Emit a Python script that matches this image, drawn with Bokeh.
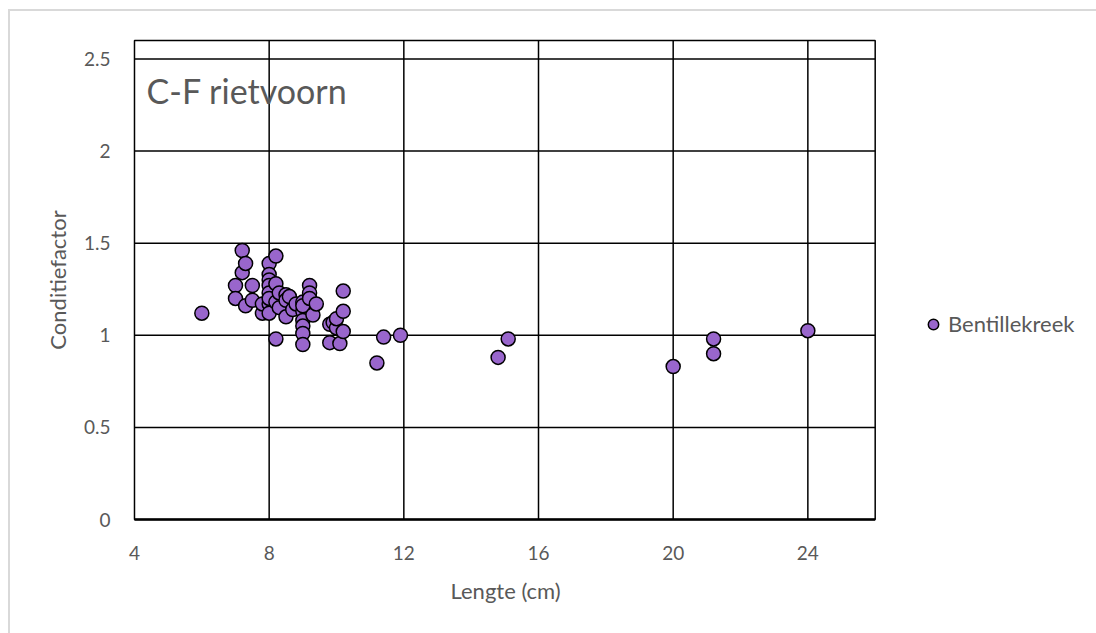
from bokeh.plotting import figure
from bokeh.models import (FixedTicker, Label, Legend, LegendItem, Title,
                          Range1d, CustomJSTickFormatter)
from bokeh.embed import file_html
from bokeh.resources import INLINE

# Bentillekreek: length (cm) and condition factor of rudd
lengte = [6.0,
          7.0, 7.0,
          7.2, 7.2,
          7.3, 7.3,
          7.5, 7.5,
          7.8, 7.8,
          8.0, 8.0, 8.0, 8.0, 8.0, 8.0, 8.0, 8.0,
          8.2, 8.2, 8.2, 8.2,
          8.3, 8.3,
          8.5, 8.5, 8.5,
          8.7, 8.6,
          8.8,
          9.0, 9.0, 9.0, 9.0, 9.0, 9.0, 9.0,
          9.2, 9.2, 9.2,
          9.3,
          9.4,
          9.8, 9.8,
          9.9,
          10.0, 10.0,
          10.1,
          10.2, 10.2, 10.2,
          11.2, 11.4, 11.9,
          14.8, 15.1,
          20.0,
          21.2, 21.2,
          24.0]
conditiefactor = [1.12,
                  1.27, 1.20,
                  1.46, 1.34,
                  1.39, 1.16,
                  1.27, 1.19,
                  1.12, 1.17,
                  1.39, 1.33, 1.30, 1.27, 1.23, 1.17, 1.12, 1.20,
                  1.43, 1.28, 1.18, 0.98,
                  1.23, 1.15,
                  1.22, 1.19, 1.10,
                  1.14, 1.21,
                  1.17,
                  1.18, 1.13, 1.08, 1.05, 1.01, 0.95, 1.16,
                  1.27, 1.23, 1.20,
                  1.11,
                  1.17,
                  1.06, 0.96,
                  1.07,
                  1.04, 1.09,
                  0.955,
                  1.24, 1.13, 1.02,
                  0.85, 0.99, 1.00,
                  0.88, 0.98,
                  0.83,
                  0.98, 0.90,
                  1.025]

x_ticks = [4, 8, 12, 16, 20, 24]
y_ticks = [0, 0.5, 1, 1.5, 2, 2.5]
X_MIN, X_MAX = 4, 26
Y_MIN, Y_MAX = 0, 2.6

FONT = "Lato"
GREY = "#595959"

# plot-area geometry in pixels; the canvas frame runs on to the right edge so
# the legend beside the plot area can live in the same panel
PX_X = 743 / (X_MAX - X_MIN)
PX_Y = 479 / (Y_MAX - Y_MIN)
PAD = 3
x_range = Range1d(X_MIN - PAD / PX_X, X_MIN + (1096 - 134 + PAD) / PX_X)
y_range = Range1d(Y_MIN - PAD / PX_Y, Y_MAX + PAD / PX_Y)

p = figure(width=1096, height=633, output_backend="svg", toolbar_location=None,
           x_range=x_range, y_range=y_range,
           min_border_left=134 - PAD, min_border_right=0,
           min_border_top=40 - PAD, min_border_bottom=114 - PAD,
           background_fill_color="white", border_fill_alpha=0)

# white page with a thin light-grey edge along the left and top
p.styles = {"background-color": "white",
            "box-shadow": "inset 8px 9px 0 0 white, inset 10px 11px 0 0 #d9d9d9"}
p.outline_line_color = None

# axes: labels only, no lines or ticks
for ax in (p.xaxis[0], p.yaxis[0]):
    ax.axis_line_color = None
    ax.major_tick_line_color = None
    ax.minor_tick_line_color = None
    ax.major_label_text_font = FONT
    ax.major_label_text_font_size = "19px"
    ax.major_label_text_color = GREY
    ax.axis_label_text_font = FONT
    ax.axis_label_text_font_size = "22px"
    ax.axis_label_text_font_style = "normal"
    ax.axis_label_text_color = GREY

p.xaxis.ticker = FixedTicker(ticks=x_ticks)
p.yaxis.ticker = FixedTicker(ticks=y_ticks)
p.yaxis.formatter = CustomJSTickFormatter(code="return String(Math.round(tick*10)/10);")
p.xaxis.major_label_standoff = 14 + PAD
p.yaxis.major_label_standoff = 12 + PAD
p.yaxis.axis_label = "Conditiefactor"
p.yaxis.axis_label_standoff = 10
p.grid.visible = False

# x-axis title, centred under the plot area rather than the whole panel
p.add_layout(Title(text="Lengte (cm)", align="left", offset=319, standoff=24,
                   text_font=FONT, text_font_size="22px", text_color=GREY,
                   text_font_style="normal"), "below")

# black gridlines and plot-area box, limited to the plot area
vx = x_ticks[1:]
p.segment(x0=vx, y0=[Y_MIN] * len(vx), x1=vx, y1=[Y_MAX] * len(vx),
          line_color="black", line_width=1.5)
hy = y_ticks[1:]
p.segment(x0=[X_MIN] * len(hy), y0=hy, x1=[X_MAX] * len(hy), y1=hy,
          line_color="black", line_width=1.5)
p.quad(left=[X_MIN], right=[X_MAX], bottom=[Y_MIN], top=[Y_MAX],
       fill_alpha=0, line_color="black", line_width=1.5)
p.segment(x0=[X_MIN], y0=[Y_MIN], x1=[X_MAX], y1=[Y_MIN],
          line_color="black", line_width=2.5)

r = p.scatter(lengte, conditiefactor, size=14, fill_color="#9966CC",
              line_color="black", line_width=1.5)

p.add_layout(Label(x=4.36, y=2.33, text="C-F rietvoorn", text_font=FONT,
                   text_font_size="34px", text_color=GREY, text_baseline="middle"))

legend = Legend(items=[LegendItem(label="Bentillekreek", renderers=[r])],
                location=(789, 185), margin=0, padding=0,
                border_line_alpha=0, background_fill_alpha=0,
                glyph_width=26, glyph_height=26, label_height=26,
                label_standoff=2, label_text_font=FONT,
                label_text_font_size="22px", label_text_color=GREY)
p.add_layout(legend)

open("out.html", "w").write(file_html(p, INLINE))
